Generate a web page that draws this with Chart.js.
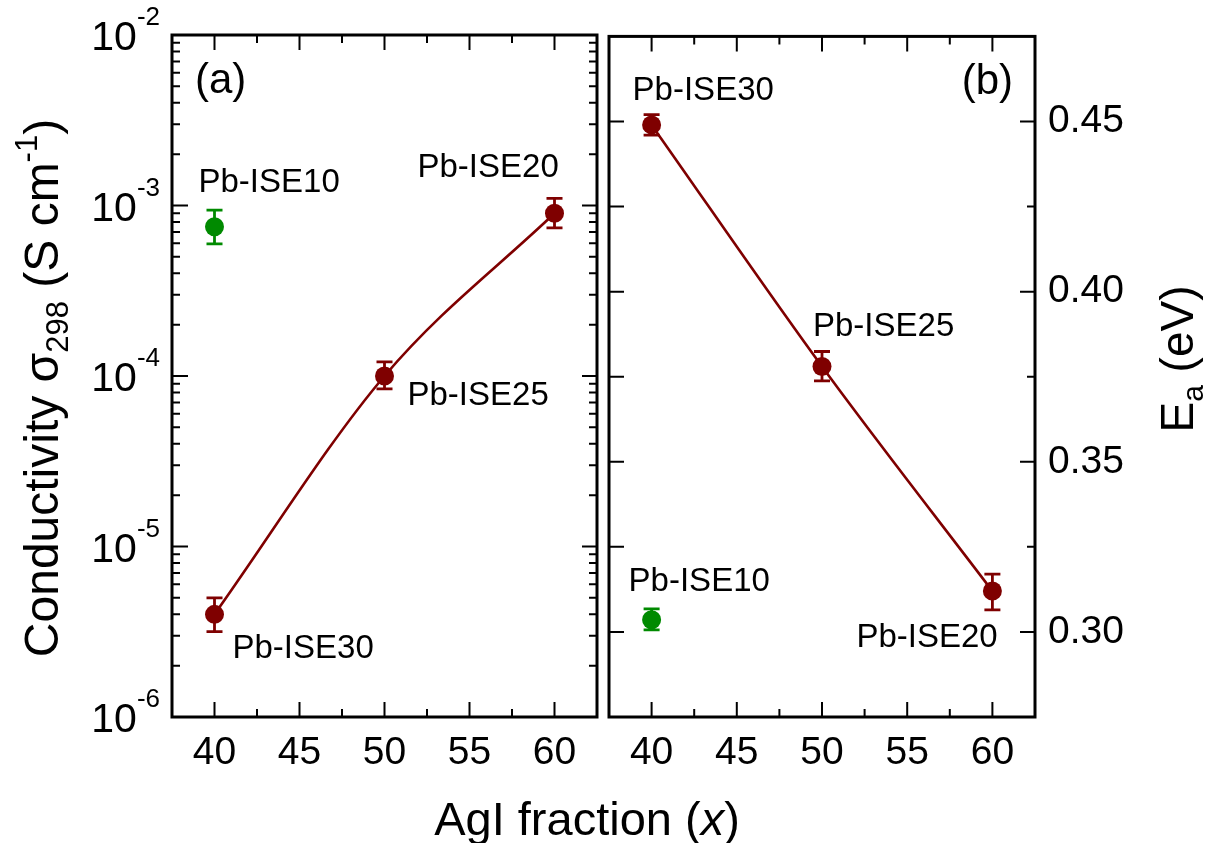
<!DOCTYPE html>
<html>
<head>
<meta charset="utf-8">
<script src="https://cdn.jsdelivr.net/npm/chart.js@4.4.1/dist/chart.umd.min.js"></script>
<style>
html, body { margin: 0; padding: 0; background: #fff; }
#wrap { position: relative; width: 1210px; height: 843px; }
canvas { position: absolute; left: 0; top: 0; }
</style>
</head>
<body>
<div id="wrap">
  <canvas id="chart-a" width="1210" height="843"></canvas>
  <canvas id="chart-b" width="1210" height="843"></canvas>
</div>
<script>
'use strict';

// AgI fraction (x) of the three samples on the curve
const agiFraction = [40, 50, 60];
const sampleNames = ['Pb-ISE30', 'Pb-ISE25', 'Pb-ISE20'];

// (a) conductivity at 298 K (S cm-1) with error bar ends
const sigma298 = [4.0e-6, 1.0e-4, 9.0e-4];
const sigmaHigh = [5.0e-6, 1.21e-4, 1.1e-3];
const sigmaLow = [3.17e-6, 8.4e-5, 7.4e-4];

// (b) activation energy (eV) with error bar ends
const eaValues = [0.449, 0.378, 0.312];
const eaHigh = [0.452, 0.3824, 0.317];
const eaLow = [0.446, 0.3738, 0.3065];

// Pb-ISE10, plotted on its own
const ise10Name = 'Pb-ISE10';
const ise10X = [40];
const ise10Sigma = [7.5e-4];
const ise10SigmaHigh = [9.4e-4];
const ise10SigmaLow = [5.95e-4];
const ise10Ea = [0.3036];
const ise10EaHigh = [0.3068];
const ise10EaLow = [0.3006];

// ticks
const xTicks = [40, 45, 50, 55, 60];
const xMinorTicks = [42.5, 47.5, 52.5, 57.5];
const sigmaDecades = [-6, -5, -4, -3, -2];
const eaTicks = [0.30, 0.35, 0.40, 0.45];
const eaMinorTicks = [0.325, 0.375, 0.425];

const FONT = "'Liberation Sans', Arial, Helvetica, sans-serif";
const MAROON = '#7f0000';
const GREEN = '#008a00';

const points = (xs, ys) => xs.map((x, i) => ({ x: x, y: ys[i] }));

function fontStr(size, italic) {
    return (italic ? 'italic ' : '') + size + 'px ' + FONT;
}

function drawRich(ctx, parts, x, y, rotate) {
    ctx.save();
    ctx.translate(x, y);
    if (rotate) ctx.rotate(-Math.PI / 2);
    ctx.textBaseline = 'alphabetic';
    ctx.textAlign = 'left';
    ctx.fillStyle = '#000';
    let total = 0;
    parts.forEach(p => {
        ctx.font = fontStr(p.size, p.italic);
        p.w = ctx.measureText(p.text).width;
        total += p.w;
    });
    let cx = -total / 2;
    parts.forEach(p => {
        ctx.font = fontStr(p.size, p.italic);
        ctx.fillText(p.text, cx, p.dy || 0);
        cx += p.w;
    });
    ctx.restore();
}

// vertical error bars with caps, drawn under the markers
const errorBars = {
    id: 'errorBars',
    beforeDatasetsDraw(chart) {
        const ctx = chart.ctx;
        chart.data.datasets.forEach((ds, i) => {
            if (!ds.errHigh) return;
            const meta = chart.getDatasetMeta(i);
            const ys = chart.scales[meta.yAxisID];
            ctx.save();
            ctx.strokeStyle = ds.borderColor;
            ctx.lineWidth = 2.8;
            meta.data.forEach((pt, j) => {
                const top = ys.getPixelForValue(ds.errHigh[j]);
                const bot = ys.getPixelForValue(ds.errLow[j]);
                ctx.beginPath();
                ctx.moveTo(pt.x, top); ctx.lineTo(pt.x, bot);
                ctx.moveTo(pt.x - 8, top); ctx.lineTo(pt.x + 8, top);
                ctx.moveTo(pt.x - 8, bot); ctx.lineTo(pt.x + 8, bot);
                ctx.stroke();
            });
            ctx.restore();
        });
    }
};

// box frame with inward ticks on all four sides
const frame = {
    id: 'frame',
    afterDraw(chart, args, opts) {
        const { ctx, chartArea: a } = chart;
        const xs = chart.scales.x;
        const ys = chart.scales[opts.yId];
        const seg = (x1, y1, x2, y2) => { ctx.moveTo(x1, y1); ctx.lineTo(x2, y2); };
        ctx.save();
        ctx.strokeStyle = '#000';
        ctx.lineWidth = 2;
        ctx.beginPath();
        const xt = (v, len) => {
            const px = xs.getPixelForValue(v);
            seg(px, a.bottom, px, a.bottom - len);
            seg(px, a.top, px, a.top + len);
        };
        xTicks.forEach(v => xt(v, 15));
        xMinorTicks.forEach(v => xt(v, 8));
        opts.yMajor.forEach(v => {
            const py = ys.getPixelForValue(v);
            seg(a.left, py, a.left + opts.leftMajor, py);
            seg(a.right, py, a.right - 15, py);
        });
        opts.yMinor.forEach(v => {
            const py = ys.getPixelForValue(v);
            seg(a.left, py, a.left + opts.leftMinor, py);
            seg(a.right, py, a.right - 8, py);
        });
        ctx.stroke();
        ctx.lineWidth = 3;
        ctx.strokeRect(a.left, a.top, a.right - a.left, a.bottom - a.top);
        ctx.restore();
    }
};

// sample names and panel letter
const notes = {
    id: 'notes',
    afterDraw(chart, args, opts) {
        const { ctx, chartArea: a } = chart;
        const xs = chart.scales.x;
        const ys = chart.scales[opts.yId];
        ctx.save();
        ctx.fillStyle = '#000';
        ctx.textBaseline = 'alphabetic';
        ctx.textAlign = 'left';
        ctx.font = fontStr(33);
        opts.items.forEach(it => {
            ctx.fillText(it.text, xs.getPixelForValue(it.x) + it.dx, ys.getPixelForValue(it.y) + it.dy);
        });
        ctx.font = fontStr(42);
        ctx.textAlign = opts.tag.align;
        const tx = opts.tag.align === 'left' ? a.left + opts.tag.dx : a.right - opts.tag.dx;
        ctx.fillText(opts.tag.text, tx, a.top + 58);
        ctx.restore();
    }
};

// 10^n labels of the log axis and the axis titles of panel (a)
const panelATitles = {
    id: 'panelATitles',
    afterDraw(chart) {
        const { ctx, chartArea: a } = chart;
        const ys = chart.scales.y;
        ctx.save();
        ctx.fillStyle = '#000';
        ctx.textBaseline = 'alphabetic';
        ctx.textAlign = 'right';
        sigmaDecades.forEach(e => {
            const py = ys.getPixelForValue(Math.pow(10, e));
            const exp = '-' + Math.abs(e);
            ctx.font = fontStr(26);
            const ew = ctx.measureText(exp).width;
            const right = a.left - 12;
            ctx.fillText(exp, right, py - 10);
            ctx.font = fontStr(41);
            ctx.fillText('10', right - ew, py + 15);
        });
        ctx.restore();
        drawRich(ctx, [
            { text: 'Conductivity \u03c3', size: 48 },
            { text: '298', size: 31, dy: 10 },
            { text: ' (S cm', size: 48 },
            { text: '-1', size: 31, dy: -21 },
            { text: ')', size: 48 }
        ], 58, 388, true);
        drawRich(ctx, [
            { text: 'AgI fraction (', size: 47 },
            { text: 'x', size: 47, italic: true },
            { text: ')', size: 47 }
        ], 587, 835, false);
    }
};

const panelBTitle = {
    id: 'panelBTitle',
    afterDraw(chart) {
        drawRich(chart.ctx, [
            { text: 'E', size: 46 },
            { text: 'a', size: 30, dy: 10 },
            { text: ' (eV)', size: 46 }
        ], 1193, 359, true);
    }
};

const logMinor = [];
sigmaDecades.slice(0, -1).forEach(e => {
    for (let k = 2; k <= 9; k++) logMinor.push(k * Math.pow(10, e));
});

const xScale = {
    type: 'linear',
    min: 37.5,
    max: 62.5,
    afterBuildTicks: s => { s.ticks = xTicks.map(v => ({ value: v })); },
    afterFit: s => { s.height = 126; },
    grid: { display: false, drawTicks: false },
    border: { display: false },
    ticks: { font: { family: FONT, size: 39 }, color: '#000', padding: 13, maxRotation: 0, autoSkip: false }
};

const lineStyle = color => ({
    borderColor: color,
    backgroundColor: color,
    pointBackgroundColor: color,
    pointBorderColor: color,
    pointBorderWidth: 0,
    pointRadius: 9.5,
    pointHoverRadius: 9.5,
    borderWidth: 2.6
});

new Chart(document.getElementById('chart-a'), {
    type: 'scatter',
    data: {
        datasets: [
            Object.assign({
                label: 'conductivity',
                data: points(agiFraction, sigma298),
                errHigh: sigmaHigh,
                errLow: sigmaLow,
                showLine: true,
                cubicInterpolationMode: 'monotone'
            }, lineStyle(MAROON)),
            Object.assign({
                label: ise10Name,
                data: points(ise10X, ise10Sigma),
                errHigh: ise10SigmaHigh,
                errLow: ise10SigmaLow,
                showLine: false
            }, lineStyle(GREEN))
        ]
    },
    options: {
        responsive: false,
        animation: false,
        events: [],
        layout: { padding: { left: 0, top: 35, right: 613, bottom: 0 } },
        plugins: {
            legend: { display: false },
            tooltip: { enabled: false },
            frame: {
                yId: 'y',
                yMajor: sigmaDecades.map(e => Math.pow(10, e)),
                yMinor: logMinor,
                leftMajor: 16,
                leftMinor: 8
            },
            notes: {
                yId: 'y',
                items: [
                    { text: ise10Name, x: ise10X[0], y: ise10Sigma[0], dx: -16, dy: -35 },
                    { text: sampleNames[2], x: agiFraction[2], y: sigma298[2], dx: -137, dy: -36 },
                    { text: sampleNames[1], x: agiFraction[1], y: sigma298[1], dx: 23, dy: 29 },
                    { text: sampleNames[0], x: agiFraction[0], y: sigma298[0], dx: 18, dy: 44 }
                ],
                tag: { text: '(a)', align: 'left', dx: 23 }
            }
        },
        scales: {
            x: xScale,
            y: {
                type: 'logarithmic',
                min: 1e-6,
                max: 1e-2,
                afterFit: s => { s.width = 172; },
                grid: { display: false, drawTicks: false },
                border: { display: false },
                ticks: { display: false }
            }
        }
    },
    plugins: [errorBars, frame, notes, panelATitles]
});

new Chart(document.getElementById('chart-b'), {
    type: 'scatter',
    data: {
        datasets: [
            Object.assign({
                label: 'activation energy',
                data: points(agiFraction, eaValues),
                yAxisID: 'ea',
                errHigh: eaHigh,
                errLow: eaLow,
                showLine: true,
                cubicInterpolationMode: 'monotone'
            }, lineStyle(MAROON)),
            Object.assign({
                label: ise10Name,
                data: points(ise10X, ise10Ea),
                yAxisID: 'ea',
                errHigh: ise10EaHigh,
                errLow: ise10EaLow,
                showLine: false
            }, lineStyle(GREEN))
        ]
    },
    options: {
        responsive: false,
        animation: false,
        events: [],
        layout: { padding: { left: 609, top: 35, right: 0, bottom: 0 } },
        plugins: {
            legend: { display: false },
            tooltip: { enabled: false },
            frame: {
                yId: 'ea',
                yMajor: eaTicks,
                yMinor: eaMinorTicks,
                leftMajor: 15,
                leftMinor: 15
            },
            notes: {
                yId: 'ea',
                items: [
                    { text: sampleNames[0], x: agiFraction[0], y: eaValues[0], dx: -19, dy: -25 },
                    { text: sampleNames[1], x: agiFraction[1], y: eaValues[1], dx: -9, dy: -30 },
                    { text: ise10Name, x: ise10X[0], y: ise10Ea[0], dx: -23, dy: -29 },
                    { text: sampleNames[2], x: agiFraction[2], y: eaValues[2], dx: -136, dy: 56 }
                ],
                tag: { text: '(b)', align: 'right', dx: 22 }
            }
        },
        scales: {
            x: xScale,
            ea: {
                type: 'linear',
                position: 'right',
                min: 0.275,
                max: 0.475,
                afterBuildTicks: s => { s.ticks = eaTicks.map(v => ({ value: v })); },
                afterFit: s => { s.width = 175; },
                grid: { display: false, drawTicks: false },
                border: { display: false },
                ticks: {
                    font: { family: FONT, size: 39 },
                    color: '#000',
                    padding: 13,
                    callback: v => v.toFixed(2)
                }
            }
        }
    },
    plugins: [errorBars, frame, notes, panelBTitle]
});
</script>
</body>
</html>
